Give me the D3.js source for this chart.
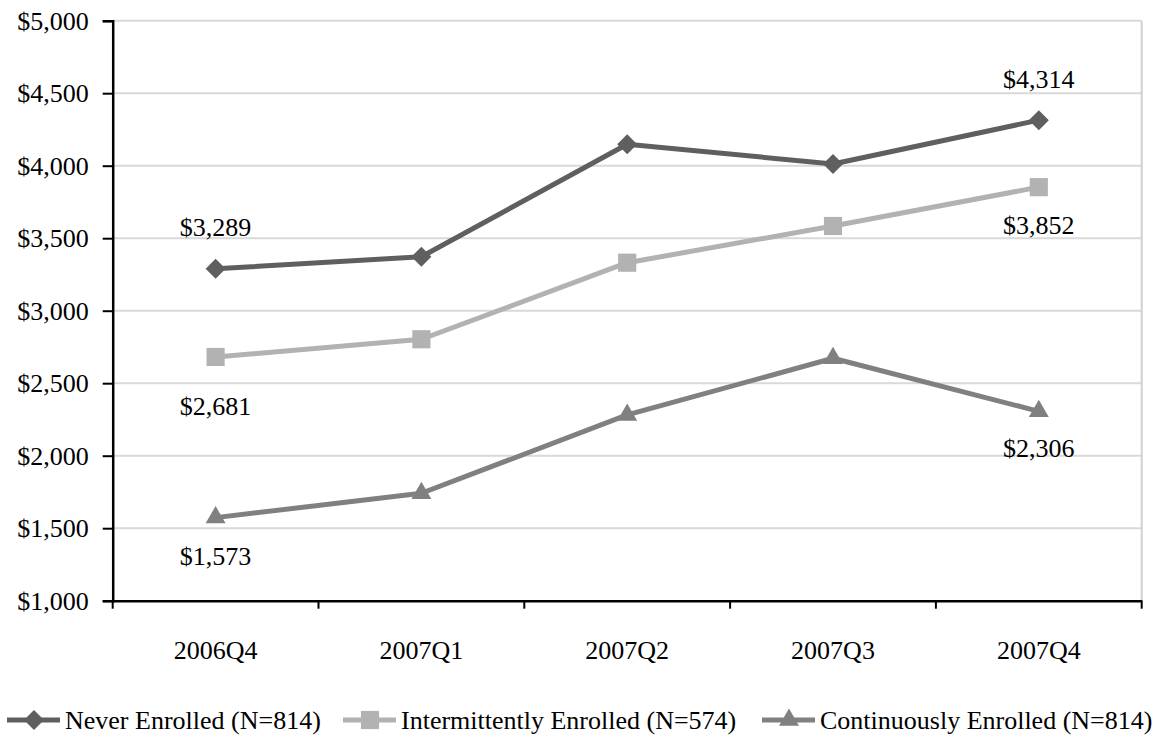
<!DOCTYPE html>
<html>
<head>
<meta charset="utf-8">
<script src="https://cdn.jsdelivr.net/npm/d3@7"></script>
<style>
  html, body { margin: 0; padding: 0; background: #fff; }
  svg { display: block; font-family: "Liberation Serif", "Times New Roman", serif; }
</style>
</head>
<body>
<svg id="chart" width="1170" height="738"></svg>
<script>
// Quarterly averages per enrollment group
const quarters = ["2006Q4", "2007Q1", "2007Q2", "2007Q3", "2007Q4"];
const neverEnrolled = [3289, 3372, 4148, 4012, 4314];
const intermittentlyEnrolled = [2681, 2803, 3331, 3584, 3852];
const continuouslyEnrolled = [1573, 1741, 2281, 2672, 2306];
const seriesNames = [
  "Never Enrolled (N=814)",
  "Intermittently Enrolled (N=574)",
  "Continuously Enrolled (N=814)"
];
const yTicks = [1000, 1500, 2000, 2500, 3000, 3500, 4000, 4500, 5000];

const series = [
  { name: seriesNames[0], values: neverEnrolled, color: "#5f5f5f", symbol: d3.symbolDiamond2, size: 255 },
  { name: seriesNames[1], values: intermittentlyEnrolled, color: "#b2b2b2", symbol: d3.symbolSquare, size: 330 },
  { name: seriesNames[2], values: continuouslyEnrolled, color: "#808080", symbol: d3.symbolTriangle2, size: 285 }
];

// Value labels shown on the first and last points (series index, point index, vertical offset)
const valueLabels = [
  { s: 0, i: 0, dy: -33 },
  { s: 0, i: 4, dy: -32 },
  { s: 1, i: 0, dy: 58 },
  { s: 1, i: 4, dy: 47 },
  { s: 2, i: 0, dy: 47 },
  { s: 2, i: 4, dy: 46 }
];

const svg = d3.select("#chart");
const plotLeft = 112.7, plotRight = 1141.7, plotTop = 20.7, plotBottom = 600.7;

const x = d3.scaleBand().domain(quarters).range([plotLeft, plotRight]);
const cx = q => x(q) + x.bandwidth() / 2;
const y = d3.scaleLinear().domain([1000, 5000]).range([plotBottom, plotTop]);
const money = v => "$" + d3.format(",")(v);

// Horizontal gridlines
svg.append("g")
  .selectAll("line")
  .data(yTicks.filter(t => t > 1000))
  .join("line")
  .attr("x1", plotLeft).attr("x2", plotRight)
  .attr("y1", d => y(d)).attr("y2", d => y(d))
  .attr("stroke", "#d9d9d9").attr("stroke-width", 2);

// Right border of the plot area
svg.append("line")
  .attr("x1", plotRight).attr("x2", plotRight)
  .attr("y1", plotTop).attr("y2", plotBottom)
  .attr("stroke", "#d0d0d0").attr("stroke-width", 2);

// Y axis
const yAxis = svg.append("g")
  .attr("transform", `translate(${plotLeft},0)`)
  .call(d3.axisLeft(y).tickValues(yTicks).tickFormat(money).tickSize(10).tickPadding(14));
yAxis.select(".domain").attr("stroke", "#000").attr("stroke-width", 2.5);
yAxis.selectAll(".tick line").attr("stroke", "#000").attr("stroke-width", 2);
yAxis.selectAll(".tick text")
  .attr("font-family", "Liberation Serif").attr("font-size", 26).attr("fill", "#000");

// X axis with ticks at the category boundaries
const xAxis = svg.append("g")
  .attr("transform", `translate(0,${plotBottom})`)
  .call(d3.axisBottom(x).tickSize(0).tickPadding(40));
xAxis.select(".domain").attr("stroke", "#000").attr("stroke-width", 2.5);
xAxis.selectAll(".tick text")
  .attr("font-family", "Liberation Serif").attr("font-size", 26).attr("fill", "#000");
svg.append("g")
  .selectAll("line")
  .data(d3.range(quarters.length + 1))
  .join("line")
  .attr("x1", i => plotLeft + i * x.step()).attr("x2", i => plotLeft + i * x.step())
  .attr("y1", plotBottom).attr("y2", plotBottom + 8)
  .attr("stroke", "#000").attr("stroke-width", 2);

// Lines and markers
const line = d3.line().x((d, i) => cx(quarters[i])).y(d => y(d));
series.forEach(s => {
  svg.append("path")
    .datum(s.values)
    .attr("d", line)
    .attr("fill", "none")
    .attr("stroke", s.color)
    .attr("stroke-width", 5)
    .attr("stroke-linejoin", "round");
  svg.append("g")
    .selectAll("path")
    .data(s.values)
    .join("path")
    .attr("transform", (d, i) => `translate(${cx(quarters[i])},${y(d)})`)
    .attr("d", d3.symbol().type(s.symbol).size(s.size))
    .attr("fill", s.color);
});

// Value labels
svg.append("g")
  .selectAll("text")
  .data(valueLabels)
  .join("text")
  .attr("x", d => cx(quarters[d.i]))
  .attr("y", d => y(series[d.s].values[d.i]) + d.dy)
  .attr("text-anchor", "middle")
  .attr("font-size", 26)
  .attr("fill", "#000")
  .text(d => money(series[d.s].values[d.i]));

// Legend
const legendX = [7, 343, 762];
const legendY = 720;
const leg = svg.append("g")
  .selectAll("g")
  .data(series)
  .join("g")
  .attr("transform", (d, i) => `translate(${legendX[i]},${legendY})`);
leg.append("line")
  .attr("x1", 0).attr("x2", 53)
  .attr("stroke", d => d.color).attr("stroke-width", 5);
leg.append("path")
  .attr("transform", "translate(27,0)")
  .attr("d", d => d3.symbol().type(d.symbol).size(d.size)())
  .attr("fill", d => d.color);
leg.append("text")
  .attr("x", 58)
  .attr("y", 9)
  .attr("font-size", 26)
  .attr("fill", "#000")
  .text(d => d.name);
</script>
</body>
</html>
